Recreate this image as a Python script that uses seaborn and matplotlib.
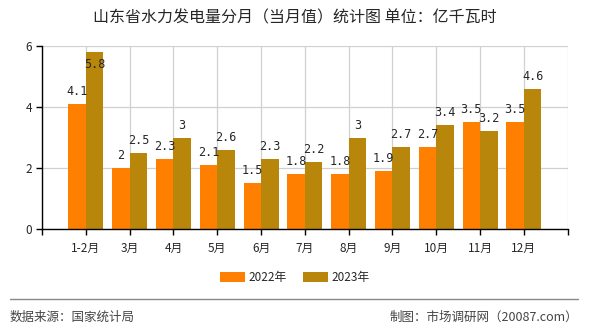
import matplotlib
matplotlib.use("Agg")
import matplotlib.pyplot as plt
import seaborn as sns
import pandas as pd
from matplotlib.patches import Patch
from matplotlib.lines import Line2D

categories = ["1-2月", "3月", "4月", "5月", "6月", "7月", "8月", "9月", "10月", "11月", "12月"]
series_names = ["2022年", "2023年"]
values_2022 = [4.1, 2, 2.3, 2.1, 1.5, 1.8, 1.8, 1.9, 2.7, 3.5, 3.5]
values_2023 = [5.8, 2.5, 3, 2.6, 2.3, 2.2, 3, 2.7, 3.4, 3.2, 4.6]
colors = ["#FF8000", "#B8860B"]
title = "山东省水力发电量分月（当月值）统计图 单位：亿千瓦时"
source = "数据来源：国家统计局"
credit = "制图：市场调研网（20087.com）"

sns.set_theme(style="white")
plt.rcParams["font.family"] = ["Noto Sans CJK SC", "DejaVu Sans"]

df = pd.DataFrame({
    "月份": categories * 2,
    "值": values_2022 + values_2023,
    "年份": [series_names[0]] * len(categories) + [series_names[1]] * len(categories),
})

fig = plt.figure(figsize=(5.9, 3.3), dpi=100)
ax = fig.add_axes([0.0712, 0.306, 0.891, 0.5545])

sns.barplot(data=df, x="月份", y="值", hue="年份", palette=colors, width=0.8,
            saturation=1, ax=ax, legend=False, order=categories, hue_order=series_names,
            linewidth=0, edgecolor="none")

ymax = 6
ax.set_ylim(0, ymax)
ax.set_xlim(-1, 11)
ax.set_yticks([0, 2, 4, 6])
ax.set_xticks(range(-1, 12))
ax.set_xticklabels([""] + categories + [""])
ax.set_xlabel("")
ax.set_ylabel("")
ax.set_axisbelow(True)
ax.grid(True, color="#d0d0d0", linewidth=0.9)
for s in ["top", "right"]:
    ax.spines[s].set_visible(False)
for s in ["left", "bottom"]:
    ax.spines[s].set_color("black")
    ax.spines[s].set_linewidth(1)
ax.tick_params(axis="both", which="both", direction="out", length=4, width=1,
               color="black", labelsize=8.5, left=True, bottom=True, pad=3)
ax.tick_params(axis="x", pad=5)

for cont in ax.containers:
    for bar in cont:
        h = bar.get_height()
        xc = bar.get_x() + bar.get_width() / 2
        label = f"{h:g}"
        off = -9 if h + 0.55 > ymax else 9
        ax.annotate(label, (xc, h), xytext=(0, off), textcoords="offset points",
                    ha="center", va="center", fontsize=8.5, family="DejaVu Sans Mono")

fig.text(0.5, 0.945, title, ha="center", va="center", fontsize=11.5)

handles = [Patch(facecolor=c, edgecolor="none") for c in colors]
fig.legend(handles, series_names, loc="center", bbox_to_anchor=(0.5, 0.16), ncol=2,
           frameon=False, fontsize=8.5, handlelength=2.1, handleheight=0.9,
           columnspacing=1.4, handletextpad=0.3)

fig.add_artist(Line2D([10 / 590, 578 / 590], [1 - 299 / 330] * 2, color="#888888", linewidth=1))
fig.text(10 / 590, 1 - 317 / 330, source, ha="left", va="center", fontsize=9, color="#444444")
fig.text(578 / 590, 1 - 317 / 330, credit, ha="right", va="center", fontsize=9, color="#444444")

fig.savefig("out.png", dpi=100)
